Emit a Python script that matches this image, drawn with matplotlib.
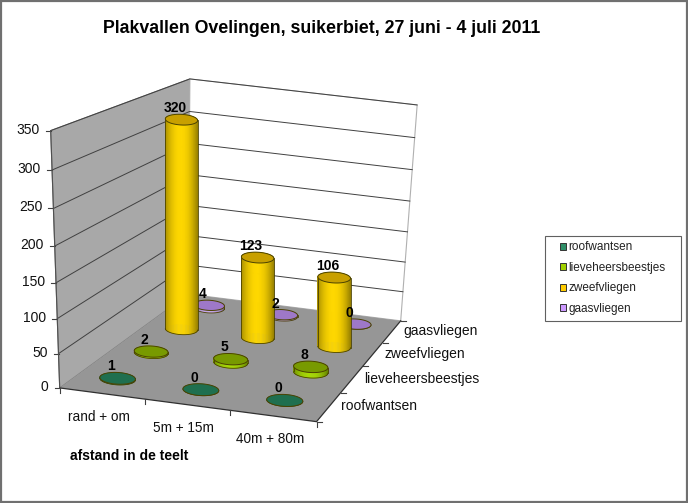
import numpy as np
import matplotlib
matplotlib.use('Agg')
import matplotlib.pyplot as plt
from matplotlib.patches import Patch, Polygon, Rectangle

plt.rcParams['font.family'] = ['Liberation Sans', 'DejaVu Sans']

categories = ['rand + om', '5m + 15m', '40m + 80m']
series_names = ['roofwantsen', 'lieveheersbeestjes', 'zweefvliegen', 'gaasvliegen']
roofwantsen = [1, 0, 0]
lieveheersbeestjes = [2, 5, 8]
zweefvliegen = [320, 123, 106]
gaasvliegen = [4, 2, 0]
y_ticks = [0, 50, 100, 150, 200, 250, 300, 350]
title = 'Plakvallen Ovelingen, suikerbiet, 27 juni - 4 juli 2011'
x_title = 'afstand in de teelt'

series_values = [roofwantsen, lieveheersbeestjes, zweefvliegen, gaasvliegen]
# side colour (bright), cap colour
series_colors = [('#2f8f68', '#1f6f4f'), ('#a8dc00', '#789a00'),
                 ('#ffd800', '#c8a000'), ('#c8a8f0', '#9e78c8')]
legend_colors = ['#2f8f68', '#a0d000', '#ffcc00', '#cc99ff']
ZMAX = 350.0

# box corners (unit cube) -> picture pixels, used to fit the 3d view
cube = np.array([[0, 0, 0], [1, 0, 0], [1, 1, 0], [0, 1, 0],
                 [0, 0, 1], [0, 1, 1], [1, 1, 1]], float)
pix = np.array([[61, 388], [314, 424], [402, 317], [188, 296],
                [52, 128], [188, 79], [418, 107]], float)


def fit_view(c, p):
    rows, rhs = [], []
    for (x, y, z), (u, v) in zip(c, p):
        rows.append([x, y, z, 1, 0, 0, 0, 0, -u*x, -u*y, -u*z])
        rhs.append(u)
        rows.append([0, 0, 0, 0, x, y, z, 1, -v*x, -v*y, -v*z])
        rhs.append(v)
    h = np.linalg.lstsq(np.array(rows), np.array(rhs), rcond=None)[0]
    return np.append(h, 1).reshape(3, 4)


VIEW = fit_view(cube, pix)


def proj(x, y, z=0.0):
    w = VIEW @ np.array([x, y, z / ZMAX, 1.0])
    return w[:2] / w[2]


def shade(color, f):
    rgb = np.array(matplotlib.colors.to_rgb(color))
    return tuple(np.clip(rgb * f, 0, 1))


fig = plt.figure(figsize=(6.88, 5.03), dpi=100)
ax = fig.add_axes([0, 0, 1, 1])
ax.set_xlim(0, 688)
ax.set_ylim(503, 0)
ax.axis('off')

# picture frame
ax.add_patch(Rectangle((0.5, 0.5), 686.5, 501, fill=False, ec='#707070', lw=1.6, zorder=1))

# walls and floor
ax.add_patch(Polygon([proj(0, 0, 0), proj(0, 1, 0), proj(0, 1, ZMAX), proj(0, 0, ZMAX)],
                     fc='#a8a8a8', ec='#808080', lw=0.8, zorder=2))
ax.add_patch(Polygon([proj(0, 1, 0), proj(1, 1, 0), proj(1, 1, ZMAX), proj(0, 1, ZMAX)],
                     fc='white', ec='#b0b0b0', lw=0.8, zorder=2))
ax.add_patch(Polygon([proj(0, 0, 0), proj(1, 0, 0), proj(1, 1, 0), proj(0, 1, 0)],
                     fc='#969696', ec='none', zorder=3))

# grid lines, ticks and value labels
for v in y_ticks:
    a, b, c = proj(0, 0, v), proj(0, 1, v), proj(1, 1, v)
    if v > 0:
        ax.plot([a[0], b[0], c[0]], [a[1], b[1], c[1]], color='#404040', lw=0.7, zorder=4)
    ax.plot([a[0] - 5, a[0]], [a[1], a[1]], color='#404040', lw=0.8, zorder=4)
    ax.text(a[0] - 11, a[1] - 1, str(v), ha='right', va='center', fontsize=10, color='#111111', zorder=9)

a, b, c = proj(0, 0), proj(1, 0), proj(1, 1)
ax.plot([a[0], b[0], c[0]], [a[1], b[1], c[1]], color='#303030', lw=0.9, zorder=4)
a, b = proj(0, 0, 0), proj(0, 0, ZMAX)
ax.plot([a[0], b[0]], [a[1], b[1]], color='#505050', lw=0.8, zorder=4)

for i in range(len(categories) + 1):
    p = proj(i / 3, 0)
    ax.plot([p[0], p[0]], [p[1], p[1] + 5], color='#404040', lw=0.8, zorder=4)
for j in range(len(series_names) + 1):
    p = proj(1, j / 4)
    ax.plot([p[0], p[0] + 5], [p[1], p[1]], color='#404040', lw=0.8, zorder=4)

for i, name in enumerate(categories):
    p = proj((i + 0.5) / 3, 0)
    ax.text(p[0] - 3.5, p[1] + 23.5, name, ha='center', va='center', fontsize=9.8, color='#111111', zorder=9)
for j, name in enumerate(series_names):
    p = proj(1, (j + 0.5) / 4)
    ax.text(p[0] + 12, p[1] - 0.5, name, ha='left', va='center', fontsize=10, color='#111111', zorder=9)


def ellipse(c0, half_w, t, ratio=0.33):
    # nearly flat on screen, the way the reference draws its cylinder caps
    u = np.array([half_w, 0.05 * half_w])
    v = np.array([0, -ratio * half_w])
    return c0 + np.outer(np.cos(t), u) + np.outer(np.sin(t), v)


def cylinder(x, y, val, side, cap, z0, r=0.071):
    t = np.linspace(0, 2 * np.pi, 121)
    base = proj(x, y, 0)
    half_w = np.hypot(*(proj(x + r, y, 0) - base))
    # height in pixels per unit at this place on the floor
    unit = np.hypot(*(proj(x, y, ZMAX) - base)) / ZMAX
    top = base - np.array([0, val * unit])
    lo = ellipse(base, half_w, t)
    hi = ellipse(top, half_w, t)
    xc = base[0]
    mid = 0.5 * (lo[:-1] + lo[1:])
    order = np.argsort(mid[:, 1])  # back strips first
    for k in order:
        f = 1.0 - 0.38 * abs((mid[k, 0] - xc) / half_w + 0.05) ** 2
        col = shade(side, f)
        ax.add_patch(Polygon([lo[k], lo[k + 1], hi[k + 1], hi[k]], fc=col, ec=col, lw=0.3, zorder=z0))
    # outline
    il, ir = np.argmin(lo[:, 0]), np.argmax(lo[:, 0])
    edge = '#4a4200'
    for k in (il, ir):
        ax.plot([lo[k, 0], hi[k, 0]], [lo[k, 1], hi[k, 1]], color=edge, lw=0.6, zorder=z0 + 0.1)
    front = t > np.pi
    ax.plot(lo[front, 0], lo[front, 1], color=edge, lw=0.6, zorder=z0 + 0.1)
    ax.add_patch(Polygon(hi, fc=cap, ec=edge, lw=0.7, zorder=z0 + 0.2))
    return hi[:, 1].min(), xc


# back row first, so nearer cylinders cover it
for j in reversed(range(len(series_names))):
    side, cap = series_colors[j]
    for i, val in enumerate(series_values[j]):
        x = (i + 0.47) / 3
        y = (j + 0.5) / 4 * (1 + 0.04 * x)
        top, xm = cylinder(x, y, val, side, cap, 5 + (3 - j))
        ax.text(xm - 6.5, top - 6, str(val), ha='center', va='center', fontsize=10,
                fontweight='bold', color='black', zorder=12)

ax.text(321.5, 28, title, ha='center', va='center', fontsize=12.75, fontweight='bold', color='black', zorder=9)
ax.text(70, 456, x_title, ha='left', va='center', fontsize=10, fontweight='bold', color='black', zorder=9)

# legend box drawn apart, its padding differs left/right and top/bottom
ax.add_patch(Rectangle((545, 235.5), 136, 85, fc='white', ec='#606060', lw=0.8, zorder=11))
handles = [Patch(fc=c, ec='#333333', lw=0.7) for c in legend_colors]
leg = ax.legend(handles, series_names, loc='upper left', bbox_to_anchor=(560 / 688, 1 - 241.5 / 503),
                bbox_transform=ax.transAxes, fontsize=8.5, frameon=False,
                handlelength=0.5, handleheight=0.5, handletextpad=0.2,
                labelspacing=0.72, borderaxespad=0, borderpad=0, labelcolor='#222222')
leg.set_zorder(12)

fig.savefig('out.png', dpi=100)
